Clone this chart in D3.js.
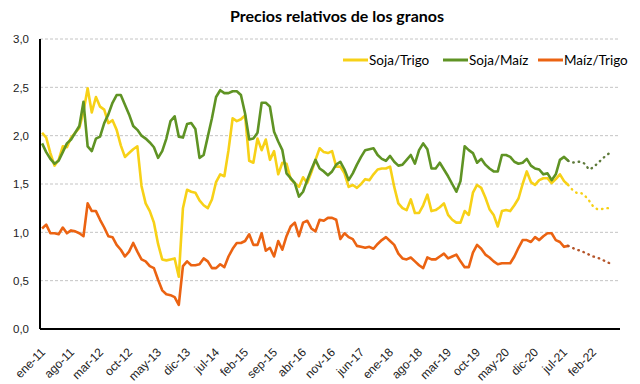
<!DOCTYPE html>
<html><head><meta charset="utf-8">
<script src="https://cdn.jsdelivr.net/npm/d3@7"></script>
<style>
html,body{margin:0;padding:0;background:#fff;}
svg{display:block;font-family:Lato,"Open Sans",sans-serif;}
</style></head>
<body><svg id="chart" width="640" height="384"></svg>
<script>
const monthAbbr = ["ene","feb","mar","abr","may","jun","jul","ago","sep","oct","nov","dic"];
const nCategories = 140;
const categories = d3.range(nCategories).map(i => monthAbbr[i % 12] + "-" + (11 + Math.floor(i / 12)));
const xTickLabels = ["ene-11","ago-11","mar-12","oct-12","may-13","dic-13","jul-14","feb-15","sep-15","abr-16","nov-16","jun-17","ene-18","ago-18","mar-19","oct-19","may-20","dic-20","jul-21","feb-22"];
const yTicks = [0, 0.5, 1, 1.5, 2, 2.5, 3];
const yTickLabels = ["0,0","0,5","1,0","1,5","2,0","2,5","3,0"];
const seriesNames = ["Soja/Trigo","Soja/Maíz","Maíz/Trigo"];
const seriesColors = ["#F7D117","#5F9324","#EB6312"];

const soyWheat = [2.03,1.98,1.82,1.69,1.75,1.89,1.88,1.98,2.03,2.08,
2.25,2.49,2.24,2.40,2.30,2.27,2.13,2.16,2.06,1.90,
1.78,1.82,1.86,1.89,1.48,1.30,1.22,1.10,0.88,0.72,
0.71,0.72,0.73,0.54,1.25,1.44,1.42,1.41,1.33,1.28,
1.25,1.34,1.52,1.60,1.58,1.85,2.18,2.15,2.17,2.21,
1.74,1.72,1.97,1.85,1.96,1.75,1.84,1.60,1.72,1.71,
1.55,1.51,1.47,1.57,1.51,1.62,1.75,1.87,1.83,1.82,
1.84,1.68,1.68,1.61,1.47,1.49,1.46,1.50,1.55,1.54,
1.60,1.65,1.66,1.66,1.68,1.47,1.30,1.25,1.23,1.34,
1.20,1.20,1.28,1.39,1.22,1.23,1.26,1.30,1.18,1.13,
1.10,1.10,1.22,1.18,1.41,1.49,1.46,1.36,1.24,1.18,
1.06,1.22,1.23,1.22,1.28,1.35,1.50,1.63,1.52,1.49,
1.54,1.56,1.56,1.51,1.55,1.60,1.53,1.49];

const soyCorn = [1.92,1.83,1.76,1.71,1.74,1.83,1.92,1.96,2.03,2.10,
2.35,1.89,1.84,1.97,1.99,2.13,2.22,2.34,2.42,2.42,
2.32,2.22,2.10,2.06,2.00,1.97,1.93,1.88,1.77,1.84,
1.97,2.15,2.20,1.99,1.98,2.12,2.13,2.07,1.77,1.80,
1.99,2.18,2.40,2.47,2.44,2.44,2.46,2.46,2.42,2.23,
1.96,1.97,2.03,2.34,2.34,2.30,2.04,1.94,1.85,1.61,
1.56,1.51,1.37,1.42,1.54,1.65,1.75,1.66,1.63,1.59,
1.63,1.70,1.73,1.65,1.54,1.61,1.70,1.78,1.85,1.86,
1.87,1.80,1.76,1.74,1.79,1.73,1.69,1.70,1.75,1.80,
1.71,1.85,1.92,1.86,1.66,1.66,1.72,1.65,1.58,1.50,
1.42,1.53,1.89,1.85,1.82,1.72,1.76,1.70,1.66,1.63,
1.63,1.80,1.80,1.78,1.73,1.71,1.72,1.76,1.69,1.66,
1.65,1.60,1.61,1.54,1.60,1.75,1.78,1.74];

const cornWheat = [1.04,1.08,0.99,0.99,0.98,1.05,0.99,1.02,1.01,0.99,
0.96,1.30,1.22,1.22,1.13,1.05,0.96,0.95,0.87,0.82,
0.75,0.80,0.89,0.80,0.72,0.70,0.65,0.63,0.51,0.40,
0.36,0.35,0.33,0.25,0.65,0.70,0.66,0.66,0.67,0.73,
0.70,0.63,0.63,0.67,0.64,0.75,0.83,0.89,0.89,0.91,
0.98,0.87,0.87,0.99,0.81,0.84,0.75,0.91,0.82,0.96,
1.06,1.10,0.96,1.10,1.12,1.04,1.01,1.13,1.12,1.15,
1.15,1.13,0.93,0.99,0.95,0.93,0.86,0.85,0.84,0.85,
0.83,0.88,0.92,0.95,0.91,0.87,0.78,0.73,0.72,0.74,
0.70,0.66,0.63,0.74,0.72,0.72,0.75,0.78,0.73,0.75,
0.77,0.70,0.64,0.64,0.79,0.87,0.83,0.77,0.74,0.70,
0.67,0.68,0.68,0.68,0.75,0.84,0.92,0.92,0.90,0.95,
0.92,0.96,0.99,0.99,0.92,0.90,0.85,0.86];

const projStart = 127;
const soyWheatProj = [1.49,1.44,1.41,1.41,1.38,1.33,1.27,1.24,1.24,1.25,1.25];
const soyCornProj = [1.74,1.72,1.73,1.73,1.71,1.65,1.67,1.71,1.75,1.79,1.82];
const cornWheatProj = [0.86,0.84,0.82,0.81,0.79,0.77,0.75,0.74,0.72,0.70,0.68];

const svg = d3.select("#chart");
const mLeft = 40, mRight = 620, mTop = 39, mBottom = 329;

const x = d3.scaleBand().domain(categories).range([mLeft, mRight]).padding(0);
const xc = d => x(d) + x.bandwidth() / 2;
const y = d3.scaleLinear().domain([0, 3]).range([mBottom, mTop]);

// title
svg.append("text").attr("x", 337).attr("y", 22).attr("text-anchor", "middle")
  .style("font-size", "16px").style("font-weight", "bold").attr("fill", "#000")
  .text("Precios relativos de los granos");

// grid
svg.append("g").selectAll("line").data(yTicks.filter(v => v > 0)).join("line")
  .attr("x1", mLeft).attr("x2", mRight).attr("y1", d => y(d)).attr("y2", d => y(d))
  .attr("stroke", "#c4c4c4").attr("stroke-width", 1).attr("stroke-dasharray", "3,2");

// y axis
const yAxis = d3.axisLeft(y).tickValues(yTicks).tickFormat((d, i) => yTickLabels[i]).tickSize(0).tickPadding(11);
const gy = svg.append("g").attr("transform", `translate(${mLeft},0)`).call(yAxis);
gy.select(".domain").remove();
gy.selectAll("text").style("font-size", "11.5px").attr("fill", "#222");
svg.append("line").attr("x1", mLeft).attr("x2", mLeft).attr("y1", mTop).attr("y2", mBottom)
  .attr("stroke", "#000").attr("stroke-width", 2);

// x axis
const xAxis = d3.axisBottom(x).tickValues(xTickLabels).tickSize(0).tickPadding(0);
const gx = svg.append("g").attr("transform", `translate(0,${mBottom})`).call(xAxis);
gx.select(".domain").remove();
gx.selectAll("text").style("font-size", "12px").attr("fill", "#222")
  .attr("text-anchor", "end").attr("dy", "0").attr("dx", "0")
  .attr("y", 0).attr("transform", "translate(4,24) rotate(-45)");
svg.append("line").attr("x1", mLeft).attr("x2", mRight).attr("y1", mBottom).attr("y2", mBottom)
  .attr("stroke", "#000").attr("stroke-width", 2);

// lines
const line = d3.line().x(d => xc(d.c)).y(d => y(d.v));
const allSeries = [soyWheat, soyCorn, cornWheat];
const allProj = [soyWheatProj, soyCornProj, cornWheatProj];
const projColors = ["#F7D117", "#5E7A3A", "#B5552A"];

allSeries.forEach((s, k) => {
  svg.append("path").datum(s.map((v, i) => ({c: categories[i], v})))
    .attr("fill", "none").attr("stroke", seriesColors[k]).attr("stroke-width", 2.6)
    .attr("stroke-linejoin", "round").attr("d", line);
});
allProj.forEach((s, k) => {
  svg.append("path").datum(s.map((v, i) => ({c: categories[projStart + i], v})))
    .attr("fill", "none").attr("stroke", projColors[k]).attr("stroke-width", 2.4)
    .attr("stroke-linecap", "round").attr("stroke-dasharray", "0.5,5")
    .attr("d", line);
});

// legend
const legendItems = [{x: 343}, {x: 443}, {x: 538}];
legendItems.forEach((it, k) => {
  svg.append("line").attr("x1", it.x).attr("x2", it.x + 25).attr("y1", 60).attr("y2", 60)
    .attr("stroke", seriesColors[k]).attr("stroke-width", 3);
  svg.append("text").attr("x", it.x + 26).attr("y", 64.5).style("font-size", "13.5px")
    .attr("fill", "#000").text(seriesNames[k]);
});
</script></body></html>
